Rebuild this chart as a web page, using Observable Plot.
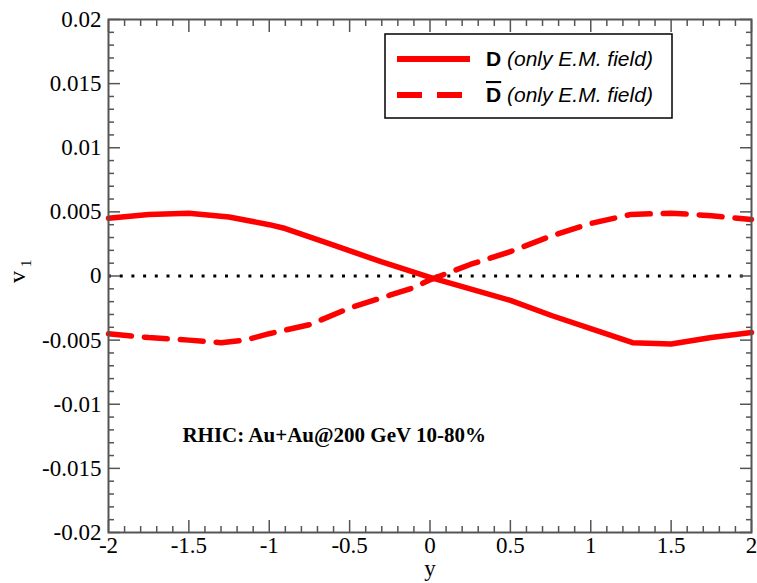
<!DOCTYPE html>
<html>
<head>
<meta charset="utf-8">
<script src="https://cdn.jsdelivr.net/npm/d3@7"></script>
<script src="https://cdn.jsdelivr.net/npm/@observablehq/plot@0.6"></script>
<style>
  body { margin: 0; background: #fff; }
</style>
</head>
<body>
<div id="chart"></div>
<script>
// Directed flow v1 of D and anti-D mesons vs rapidity (electromagnetic field only)
const rapidityD = [-2, -1.75, -1.5, -1.25, -1, -0.9, -0.6, -0.3, 0, 0.25, 0.5, 0.76, 1, 1.26, 1.5, 1.75, 2];
const v1D = [0.0045, 0.0048, 0.0049, 0.0046, 0.0040, 0.0037, 0.0024, 0.0011, -0.0001, -0.0010, -0.0019, -0.0031, -0.0041, -0.0052, -0.0053, -0.0048, -0.0044];

const rapidityDbar = [-2, -1.75, -1.5, -1.3, -1.15, -1, -0.75, -0.5, -0.25, -0.1, 0, 0.25, 0.5, 0.75, 1, 1.25, 1.5, 1.75, 2];
const v1Dbar = [-0.0045, -0.0048, -0.0050, -0.0052, -0.0050, -0.0045, -0.0038, -0.0025, -0.0015, -0.0009, -0.0003, 0.0009, 0.0019, 0.0031, 0.0041, 0.0048, 0.0049, 0.0047, 0.0044];

const xTicks = [-2, -1.5, -1, -0.5, 0, 0.5, 1, 1.5, 2];
const xTickLabels = ["-2", "-1.5", "-1", "-0.5", "0", "0.5", "1", "1.5", "2"];
const yTicks = [-0.02, -0.015, -0.01, -0.005, 0, 0.005, 0.01, 0.015, 0.02];
const yTickLabels = ["-0.02", "-0.015", "-0.01", "-0.005", "0", "0.005", "0.01", "0.015", "0.02"];

const seriesLabels = ["D", "D"];
const annotation = "RHIC: Au+Au@200 GeV 10-80%";

const xMinor = d3.range(-20, 21).map(k => k / 10).filter(v => !xTicks.includes(v));
const yMinor = d3.range(-20, 21).map(k => k / 1000).filter(v => !yTicks.some(t => Math.abs(t - v) < 1e-9));

const dRows = rapidityD.map((y, i) => ({y, v1: v1D[i]}));
const dbarRows = rapidityDbar.map((y, i) => ({y, v1: v1Dbar[i]}));

const red = "#ff0000";
const axisGrey = "#555";
const serif = "'Liberation Serif', 'Times New Roman', serif";
const sans = "'Liberation Sans', Arial, sans-serif";

const xLab = d => xTickLabels[xTicks.indexOf(d)];
const yLab = d => yTickLabels[yTicks.findIndex(t => Math.abs(t - d) < 1e-9)];

const inward = (axis, ticks, anchor, size) =>
  axis(ticks, {anchor, tickSize: -size, fill: "none", stroke: axisGrey, strokeWidth: 1.5, label: null});

const svg = Plot.plot({
  width: 757,
  height: 583,
  marginLeft: 108,
  marginRight: 6,
  marginTop: 19,
  marginBottom: 51,
  x: {domain: [-2, 2]},
  y: {domain: [-0.02, 0.02]},
  style: {fontFamily: serif, fontSize: "23px", color: "#000", background: "#fff"},
  marks: [
    Plot.ruleY([0], {stroke: "#000", strokeWidth: 3, strokeDasharray: "3 8.7"}),
    Plot.line(dRows, {x: "y", y: "v1", stroke: red, strokeWidth: 5.5, curve: "linear"}),
    Plot.line(dbarRows, {x: "y", y: "v1", stroke: red, strokeWidth: 5.5, strokeDasharray: "23 13", curve: "linear"}),
    Plot.text([annotation], {x: -1.54, y: -0.01245, textAnchor: "start", fontWeight: "bold", fontSize: 21, fontFamily: serif, fill: "#000"}),
    // inward tick marks on all four sides
    inward(Plot.axisX, xMinor, "bottom", 6),
    inward(Plot.axisX, xTicks, "bottom", 12),
    inward(Plot.axisX, xMinor, "top", 6),
    inward(Plot.axisX, xTicks, "top", 12),
    inward(Plot.axisY, yMinor, "left", 6),
    inward(Plot.axisY, yTicks, "left", 12),
    inward(Plot.axisY, yMinor, "right", 6),
    inward(Plot.axisY, yTicks, "right", 12),
    // tick labels
    Plot.axisX(xTicks, {anchor: "bottom", tickSize: 0, tickPadding: 4, tickFormat: xLab, label: null, fontFamily: serif, fontSize: 23}),
    Plot.axisY(yTicks, {anchor: "left", tickSize: 0, tickPadding: 7, tickFormat: yLab, label: null, fontFamily: serif, fontSize: 23}),
    // axis titles
    Plot.text(["y"], {frameAnchor: "bottom", dy: 43, fontSize: 23, fontFamily: serif}),
    Plot.text(["v"], {frameAnchor: "left", dx: -91, dy: 7, rotate: -90, fontSize: 24, fontFamily: serif}),
    Plot.text(["1"], {frameAnchor: "left", dx: -82, dy: -9, rotate: -90, fontSize: 15, fontFamily: serif}),
    Plot.frame({stroke: axisGrey, strokeWidth: 2})
  ]
});

// tick labels in a Times-like face, without tabular figures
d3.select(svg).selectAll('g[aria-label$="tick label"]')
  .style("font-family", "Liberation Serif")
  .style("font-variant", "normal")
  .selectAll("text")
  .style("font-family", "Liberation Serif");

// legend box in the upper right of the plotting area
const g = d3.select(svg).append("g").attr("class", "legend");
g.append("rect")
  .attr("x", 385).attr("y", 34).attr("width", 287).attr("height", 84)
  .attr("fill", "#fff").attr("stroke", "#000").attr("stroke-width", 1.5);
const rows = [
  {y: 59, dash: null, label: seriesLabels[0], bar: false},
  {y: 95, dash: "25 15", label: seriesLabels[1], bar: true}
];
rows.forEach(r => {
  g.append("line")
    .attr("x1", 397).attr("x2", r.dash ? 463 : 470)
    .attr("y1", r.y).attr("y2", r.y)
    .attr("stroke", red).attr("stroke-width", 6)
    .attr("stroke-dasharray", r.dash);
  const t = g.append("text")
    .attr("x", 486).attr("y", r.y + 7)
    .attr("text-anchor", "start")
    .attr("font-family", sans)
    .attr("font-size", 21).attr("fill", "#000");
  const lead = t.append("tspan").attr("font-weight", "bold").text(r.label);
  if (r.bar) lead.attr("text-decoration", "overline");
  t.append("tspan").attr("font-style", "italic").text(" (only E.M. field)");
});

document.getElementById("chart").appendChild(svg);
</script>
</body>
</html>
